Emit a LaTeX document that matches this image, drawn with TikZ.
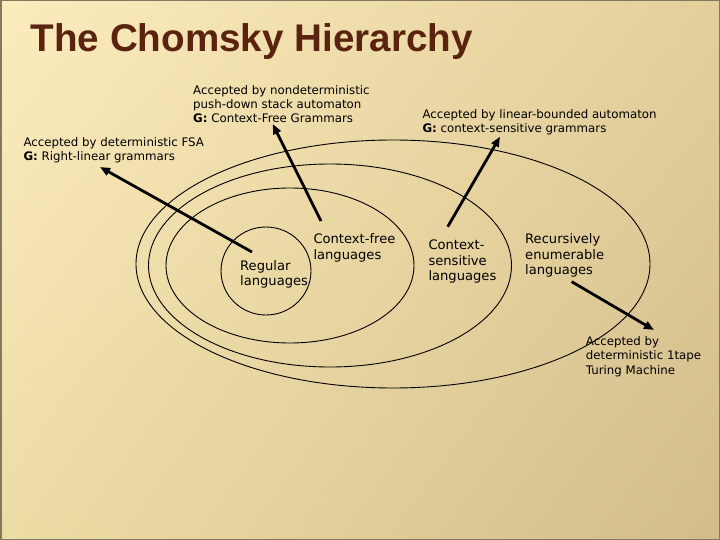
\documentclass[tikz,border=0pt]{standalone}
\usepackage{fontspec}
\setmainfont{DejaVu Sans}
\newfontfamily\titlefont{Liberation Sans}
\usetikzlibrary{arrows.meta,shadings}
\definecolor{bgUL}{HTML}{FCECBE}
\definecolor{bgUR}{HTML}{E3CF9A}
\definecolor{bgLL}{HTML}{EEDCA5}
\definecolor{bgLR}{HTML}{D2BD8A}
\definecolor{frameC}{HTML}{827A5C}
\definecolor{titleC}{HTML}{5A2310}
\begin{document}
\begin{tikzpicture}[x=1pt,y=-1pt,
  note/.style={anchor=north west, inner sep=0pt, align=left, font=\fontsize{11.8}{14.1}\selectfont},
  lang/.style={anchor=north west, inner sep=0pt, align=left, font=\fontsize{13.1}{15.7}\selectfont},
  setline/.style={draw=black, line width=0.9pt},
  ptr/.style={line width=2.8pt, -{Triangle[length=10pt,width=8pt]}}]
\useasboundingbox (0,0) rectangle (720,540);
\shade[upper left=bgUL, upper right=bgUR, lower left=bgLL, lower right=bgLR] (0,0) rectangle (720,540);
\draw[frameC, line width=1.5pt] (0.75,0.75) rectangle (719.25,539.25);

\node[anchor=base west, inner sep=0pt, text=titleC, font=\titlefont\bfseries\fontsize{38.6}{46}\selectfont] (title) at (30.5,51.7) {The Chomsky Hierarchy};

% nested language sets
\draw[setline] (393,264) ellipse [x radius=257pt, y radius=124pt];
\draw[setline] (330,265.5) ellipse [x radius=181.5pt, y radius=101.5pt];
\draw[setline] (290,265.5) ellipse [x radius=124pt, y radius=77.5pt];
\draw[setline] (266,271) ellipse [x radius=45pt, y radius=44pt];

% labels
\node[note] (pda) at (193,84.4) {\strut Accepted by nondeterministic\\\strut push-down stack automaton\\\strut\textbf{G:} Context-Free Grammars};
\node[note] (fsa) at (23.3,136.8) {\strut Accepted by deterministic FSA\\\strut\textbf{G:} Right-linear grammars};
\node[note] (lba) at (422.3,108.4) {\strut Accepted by linear-bounded automaton\\\strut\textbf{G:} context-sensitive grammars};
\node[note] (tm) at (585.7,335.8) {\strut Accepted by\\\strut deterministic 1tape\\\strut Turing Machine};

\node[lang] (cf) at (313.3,232.3) {\strut Context-free\\\strut languages};
\node[lang] (reg) at (240,259) {\strut Regular\\\strut languages};
\node[lang] (cs) at (428.3,238.3) {\strut Context-\\\strut sensitive\\\strut languages};
\node[lang] (re) at (525,232.3) {\strut Recursively\\\strut enumerable\\\strut languages};

% arrow ends
\coordinate (fsaTail) at (252,252);
\coordinate (fsaTip) at (100,167);
\coordinate (pdaTail) at (321,221);
\coordinate (pdaTip) at (272.7,124);
\coordinate (lbaTail) at (447.7,226.7);
\coordinate (lbaTip) at (500,136.7);
\coordinate (reTail) at (571.7,281.7);
\coordinate (reTip) at (654,330);

\draw[ptr] (fsaTail) -- (fsaTip);
\draw[ptr] (pdaTail) -- (pdaTip);
\draw[ptr] (lbaTail) -- (lbaTip);
\draw[ptr] (reTail) -- (reTip);
\end{tikzpicture}
\end{document}
